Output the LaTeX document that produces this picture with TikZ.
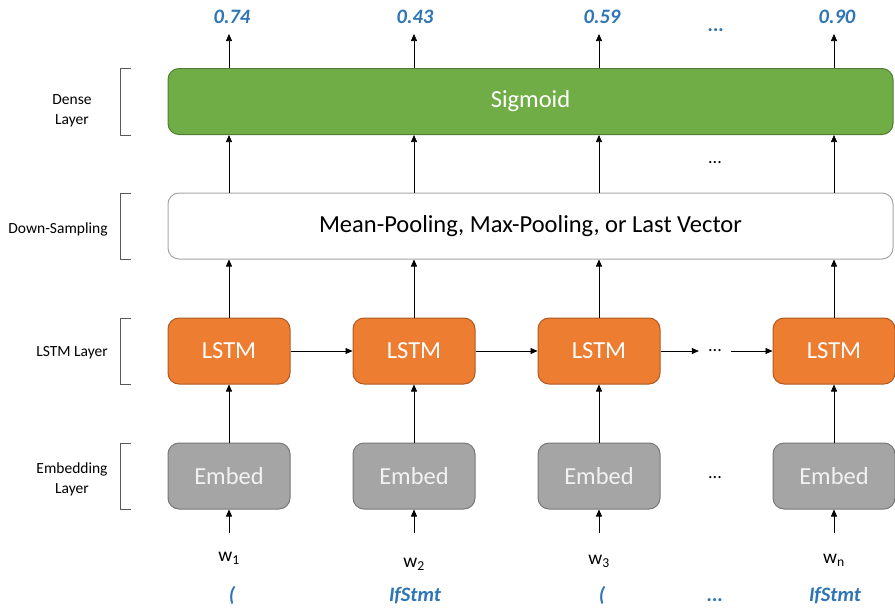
\documentclass[tikz,border=0pt]{standalone}
\usepackage{fontspec}
\setmainfont{Carlito}
\usepackage{xcolor}
\usetikzlibrary{arrows.meta}

\definecolor{densegreen}{HTML}{70AD47}
\definecolor{denseedge}{HTML}{507E32}
\definecolor{lstmorange}{HTML}{ED7D31}
\definecolor{lstmedge}{HTML}{AE5A21}
\definecolor{embgray}{HTML}{A5A5A5}
\definecolor{embedge}{HTML}{787878}
\definecolor{poolgray}{HTML}{A6A6A6}
\definecolor{valblue}{HTML}{2E75B6}
\definecolor{bracegray}{HTML}{595959}

\begin{document}
\begin{tikzpicture}[x=1pt,y=-1pt,line width=0.7pt,>={Triangle[length=7pt,width=6pt]},
  box/.style={rectangle,rounded corners=11pt,minimum width=122pt,minimum height=66pt,draw,line width=1pt,text=white,font=\fontsize{24.5}{28}\selectfont},
  lstm/.style={box,fill=lstmorange,draw=lstmedge},
  embed/.style={box,fill=embgray,draw=embedge,text=white!95!black},
  layer/.style={align=center,font=\fontsize{15.5}{20}\selectfont},
  brace/.style={draw=bracegray,line width=0.8pt},
  val/.style={anchor=base,text=valblue,font=\fontsize{20.5}{24}\selectfont\bfseries\itshape},
  word/.style={anchor=base,inner sep=1pt,font=\fontsize{19.5}{22}\selectfont},
  dots/.style={font=\fontsize{18}{22}\selectfont}]
\useasboundingbox (0,0) rectangle (895,608);

\node (S)[box,fill=densegreen,draw=denseedge,minimum width=725pt] at (530.5,101.5) {Sigmoid};
\node (D)[box,fill=white,draw=poolgray,text=black,minimum width=725pt] at (530.5,226) {Mean-Pooling, Max-Pooling, or Last Vector};

\node (L1)[lstm] at (229,351) {LSTM};
\node (L2)[lstm] at (414,351) {LSTM};
\node (L3)[lstm] at (599,351) {LSTM};
\node (L4)[lstm] at (834,351) {LSTM};

\node (E1)[embed] at (229,476) {Embed};
\node (E2)[embed] at (414,476) {Embed};
\node (E3)[embed] at (599,476) {Embed};
\node (E4)[embed] at (834,476) {Embed};

% layer labels and brackets
\node (dense)[layer] at (72,111) {Dense\\Layer};
\node (down)[layer] at (58,229) {Down-Sampling};
\node (lstmlab)[layer] at (72,353) {LSTM Layer};
\node (emblab)[layer] at (72,479) {Embedding\\Layer};
\foreach \t/\b in {68/135,193/259,318/384,443/509}
  \draw[brace] (131,\t) -- (120,\t) -- (120,\b) -- (131,\b);

% inputs
\node (W1)[word] at (229,561) {w\textsubscript{1}};
\node (W2)[word] at (414,567) {w\textsubscript{2}};
\node (W3)[word] at (599,564) {w\textsubscript{3}};
\node (W4)[word] at (834,563) {w\textsubscript{n}};
\coordinate (I1) at (229,533);
\coordinate (I2) at (414,533);
\coordinate (I3) at (599,533);
\coordinate (I4) at (834,533);

\node (T1)[val] at (232,601) {(};
\node (T2)[val] at (415,601) {IfStmt};
\node (T3)[val] at (602,601) {(};
\node (T4)[val] at (715,601) {...};
\node (T5)[val] at (835,601) {IfStmt};

% outputs
\node (P1)[val] at (232,23) {0.74};
\node (P2)[val] at (415,23) {0.43};
\node (P3)[val] at (602,23) {0.59};
\node (P4)[val] at (716,31) {...};
\node (P5)[val] at (837,23) {0.90};
\coordinate (O1) at (229,34);
\coordinate (O2) at (414,34);
\coordinate (O3) at (599,34);
\coordinate (O4) at (834,34);

\draw[->] (I1) -- (E1);
\draw[->] (I2) -- (E2);
\draw[->] (I3) -- (E3);
\draw[->] (I4) -- (E4);
\node (ed)[dots] at (715,478) {...};

\draw[->] (E1) -- (L1);
\draw[->] (E2) -- (L2);
\draw[->] (E3) -- (L3);
\draw[->] (E4) -- (L4);

\draw[->] (L1) -- (L2);
\draw[->] (L2) -- (L3);
\node (ld)[dots,inner sep=9pt] at (715,351) {...};
\draw[->] (L3) -- (ld);
\draw[->] (ld) -- (L4);

\draw[->] (L1) -- (D.south -| L1);
\draw[->] (L2) -- (D.south -| L2);
\draw[->] (L3) -- (D.south -| L3);
\draw[->] (L4) -- (D.south -| L4);

\draw[->] (D.north -| L1) -- (S.south -| L1);
\draw[->] (D.north -| L2) -- (S.south -| L2);
\draw[->] (D.north -| L3) -- (S.south -| L3);
\draw[->] (D.north -| L4) -- (S.south -| L4);
\node (sd)[dots] at (715,163) {...};

\draw[->] (S.north -| L1) -- (O1);
\draw[->] (S.north -| L2) -- (O2);
\draw[->] (S.north -| L3) -- (O3);
\draw[->] (S.north -| L4) -- (O4);
\end{tikzpicture}
\end{document}
